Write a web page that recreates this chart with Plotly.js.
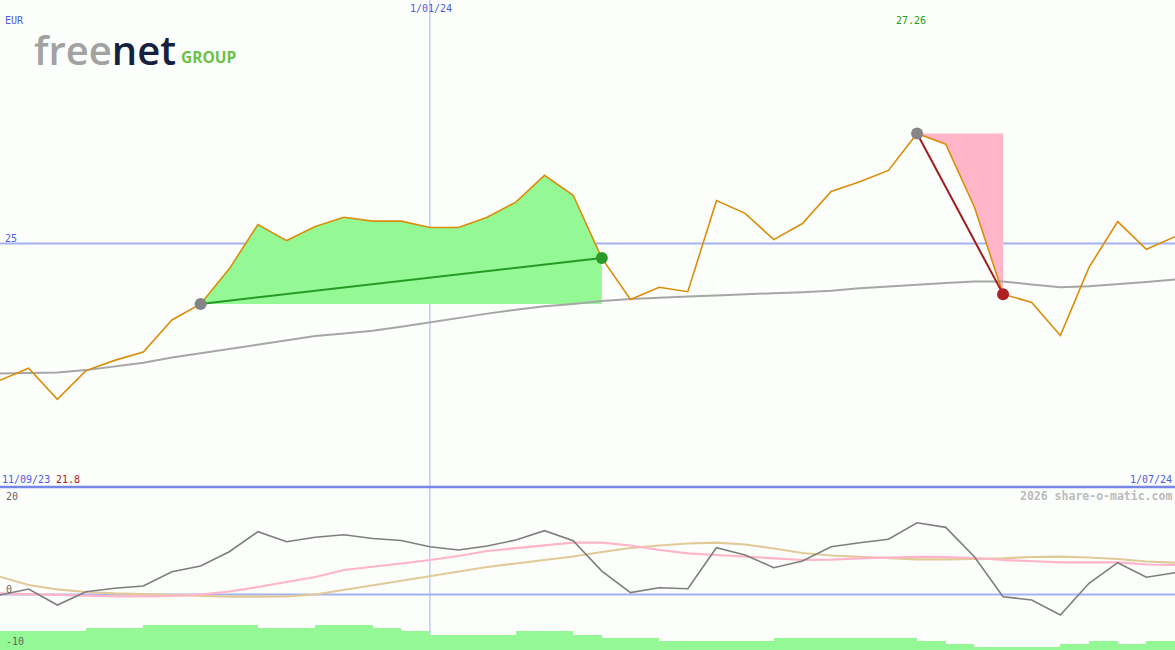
<!DOCTYPE html>
<html>
<head>
<meta charset="utf-8">
<script src="https://cdn.plot.ly/plotly-3.0.1.min.js"></script>
<style>html,body{margin:0;padding:0;background:#FBFEFB;}#chart{width:1175px;height:650px;}</style>
</head>
<body>
<div id="chart"></div>
<script>
// ---- data (weekly) ----
const dates = ['2023-09-18','2023-09-25','2023-10-02','2023-10-09','2023-10-16','2023-10-23','2023-10-30',
  '2023-11-06','2023-11-13','2023-11-20','2023-11-27','2023-12-04','2023-12-11','2023-12-18','2023-12-25',
  '2024-01-01','2024-01-08','2024-01-15','2024-01-22','2024-01-29','2024-02-05','2024-02-12','2024-02-19',
  '2024-02-26','2024-03-04','2024-03-11','2024-03-18','2024-03-25','2024-04-01','2024-04-08','2024-04-15',
  '2024-04-22','2024-04-29','2024-05-06','2024-05-13','2024-05-20','2024-05-27','2024-06-03','2024-06-10',
  '2024-06-17','2024-06-24','2024-07-01'];
const price = [22.19,22.44,21.80,22.39,22.60,22.77,23.43,23.76,24.48,25.39,25.06,25.35,25.54,25.46,25.46,
  25.33,25.33,25.54,25.85,26.40,25.99,24.70,23.85,24.10,24.01,25.88,25.62,25.08,25.41,26.07,26.27,26.50,
  27.26,27.04,25.75,23.96,23.79,23.11,24.51,25.45,24.88,25.14];
const movingAvg = [22.33,22.34,22.35,22.40,22.47,22.55,22.66,22.75,22.84,22.92,23.01,23.10,23.15,23.21,23.29,
  23.38,23.48,23.56,23.64,23.71,23.76,23.82,23.86,23.89,23.91,23.93,23.96,23.98,24.00,24.03,24.08,24.12,
  24.16,24.19,24.22,24.22,24.16,24.10,24.12,24.16,24.21,24.26];
const oscillator = [-0.1,1.2,-2.3,0.6,1.35,1.85,4.96,6.2,9.3,13.65,11.48,12.43,13.0,12.17,11.74,10.39,9.67,
  10.54,11.85,13.87,11.7,5.1,0.4,1.48,1.26,10.17,8.59,5.83,7.28,10.39,11.26,12.0,15.6,14.6,8.2,-0.48,-1.2,
  -4.46,2.43,6.91,3.74,4.74];
const signalPink = [0.26,0.11,-0.11,-0.33,-0.43,-0.43,-0.33,0,0.65,1.63,2.72,3.8,5.33,5.98,6.74,7.5,8.37,
  9.46,10.1,10.76,11.26,11.26,10.65,9.67,8.93,8.59,8.15,7.87,7.5,7.6,7.87,8.04,8.2,8.15,7.93,7.5,7.17,7.0,
  7.0,6.96,6.52,6.41];
const signalTan = [3.87,2.07,1.09,0.54,0.22,0.04,-0.22,-0.37,-0.48,-0.48,-0.43,0,0.98,1.96,2.93,4.02,5.0,
  5.98,6.74,7.5,8.26,9.24,10.11,10.65,11.09,11.26,10.87,10.0,9.02,8.48,8.15,7.83,7.65,7.65,7.72,7.87,8.15,
  8.22,8.04,7.72,7.17,6.91];
const barTops = [-7.9,-7.9,-7.9,-7.2,-7.2,-6.6,-6.6,-6.6,-6.6,-7.2,-7.2,-6.6,-6.6,-7.2,-7.9,-8.8,-8.8,-8.8,
  -7.9,-7.9,-8.8,-9.4,-9.4,-10.1,-10.1,-10.1,-10.1,-9.4,-9.4,-9.4,-9.4,-9.4,-10.1,-10.8,-11.4,-11.4,-11.4,
  -10.8,-10.1,-10.8,-10.1];
const upStart = 7, upEnd = 21;     // rising segment
const downStart = 32, downEnd = 35; // falling segment
const labels = {currency:'EUR', midDate:'1/01/24', midDateValue:'2024-01-01', startDate:'11/09/23',
  endDate:'1/07/24', high:'27.26', low:'21.8', level:'25', credit:'2026 share-o-matic.com'};
const oscTicks = ['20','0','-10'];

// ---- geometry ----
const W = 1175, H = 650, split = 487;
const priceRange = [20, 30];
const oscRange = [-12.07, 23.37];
const px = v => v / W;
const py = v => 1 - v / H;

const upX = dates.slice(upStart, upEnd + 1);
const upY = price.slice(upStart, upEnd + 1);
const dnX = dates.slice(downStart, downEnd + 1);
const dnY = price.slice(downStart, downEnd + 1);

const traces = [
  {x: upX.concat([dates[upEnd], dates[upStart]]), y: upY.concat([price[upStart], price[upStart]]),
   fill:'toself', fillcolor:'#94F894', line:{width:0}, mode:'lines', hoverinfo:'skip', xaxis:'x', yaxis:'y'},
  {x: dnX.concat([dates[downEnd]]), y: dnY.concat([price[downStart]]),
   fill:'toself', fillcolor:'#FFB6C8', line:{width:0}, mode:'lines', hoverinfo:'skip', xaxis:'x', yaxis:'y'},
  {x: dates, y: movingAvg, mode:'lines', line:{color:'#A6A6A6', width:2}, xaxis:'x', yaxis:'y'},
  {x: dates, y: price, mode:'lines', line:{color:'#DA8E08', width:1.6}, xaxis:'x', yaxis:'y'},
  {x: [dates[upStart], dates[upEnd]], y: [price[upStart], price[upEnd]], mode:'lines',
   line:{color:'#239B23', width:2}, xaxis:'x', yaxis:'y'},
  {x: [dates[downStart], dates[downEnd]], y: [price[downStart], price[downEnd]], mode:'lines',
   line:{color:'#A01C1C', width:2}, xaxis:'x', yaxis:'y'},
  {x: [dates[upStart], dates[downStart]], y: [price[upStart], price[downStart]], mode:'markers',
   marker:{color:'#858585', size:12}, xaxis:'x', yaxis:'y'},
  {x: [dates[upEnd]], y: [price[upEnd]], mode:'markers', marker:{color:'#2A9A2A', size:12}, xaxis:'x', yaxis:'y'},
  {x: [dates[downEnd]], y: [price[downEnd]], mode:'markers', marker:{color:'#B02222', size:12}, xaxis:'x', yaxis:'y'},
  // lower panel
  {type:'bar', x: dates.slice(0, barTops.length), y: barTops.map(v => v - oscRange[0]), base: oscRange[0],
   width: 7*86400000, offset: 0, marker:{color:'#94F894', line:{width:0}}, xaxis:'x', yaxis:'y2'},
  {x: dates, y: signalTan, mode:'lines', line:{color:'#E2CA98', width:2.2}, xaxis:'x', yaxis:'y2'},
  {x: dates, y: signalPink, mode:'lines', line:{color:'#FFB4CA', width:2.2}, xaxis:'x', yaxis:'y2'},
  {x: dates, y: oscillator, mode:'lines', line:{color:'#7E7E7E', width:1.6}, xaxis:'x', yaxis:'y2'}
];

const mono = 'DejaVu Sans Mono, monospace';
const blue = '#4C5CE6';
const ann = (text, x, y, xa, color, size, extra) => Object.assign({
  text, x: px(x), y: py(y), xref:'paper', yref:'paper', xanchor: xa, yanchor:'middle', showarrow:false,
  font:{family: mono, size: size || 10, color}}, extra || {});

const annotations = [
  ann(labels.currency, 3, 20, 'left', blue),
  ann(labels.midDate, 431, 9, 'center', blue),
  ann(labels.high, 911, 21, 'center', '#22A022'),
  ann(labels.level, 3, 238, 'left', blue),
  ann(labels.startDate, 0, 479, 'left', blue),
  ann(labels.low, 54, 479, 'left', '#A82020'),
  ann(labels.endDate, 1174, 479, 'right', blue),
  ann(labels.credit, 1174, 496, 'right', '#BBBBBB', 11.5, {font:{family: mono, size: 11.5, color:'#BBBBBB', weight:'bold'}}),
  ann(oscTicks[0], 4, 496, 'left', '#666666'),
  ann(oscTicks[1], 4, 589, 'left', '#666666'),
  ann(oscTicks[2], 4, 641, 'left', '#666666'),
  {text:'<span style="color:#A2A2A2">free</span><span style="color:#16213F">net</span>',
   x: px(32), y: py(49), xref:'paper', yref:'paper', xanchor:'left', yanchor:'middle', showarrow:false,
   font:{family:'Open Sans', size:40, weight:600}},
  {text:'GROUP', x: px(179), y: py(57), xref:'paper', yref:'paper', xanchor:'left', yanchor:'middle',
   showarrow:false, font:{family:'Open Sans', size:15.5, weight:700, color:'#6CC044'}}
];

const shapes = [
  {type:'line', xref:'paper', yref:'y', x0:0, x1:1, y0:25, y1:25, line:{color:'#A4B2F2', width:2}, layer:'below'},
  {type:'line', xref:'x', yref:'paper', x0:labels.midDateValue, x1:labels.midDateValue, y0:0, y1:1,
   line:{color:'#A8B4F0', width:1}, layer:'below'},
  {type:'line', xref:'paper', yref:'y2', x0:0, x1:1, y0:0, y1:0, line:{color:'#A4B2F2', width:2}, layer:'below'},
  {type:'line', xref:'paper', yref:'paper', x0:0, x1:1, y0:py(split), y1:py(split), line:{color:'#7888E8', width:2.5}}
];

const layout = {
  width: W, height: H, margin:{l:0, r:0, t:0, b:0}, showlegend:false,
  paper_bgcolor:'#FBFEFB', plot_bgcolor:'#FBFEFB',
  xaxis:{type:'date', range:[dates[0], dates[dates.length-1]], visible:false, showgrid:false, zeroline:false, anchor:'y2'},
  yaxis:{domain:[py(split), 1], range: priceRange, visible:false, showgrid:false, zeroline:false},
  yaxis2:{domain:[0, py(split)], range: oscRange, visible:false, showgrid:false, zeroline:false},
  bargap:0, annotations, shapes, hovermode:false
};

Plotly.newPlot('chart', traces, layout, {staticPlot:true, displayModeBar:false});
</script>
</body>
</html>
